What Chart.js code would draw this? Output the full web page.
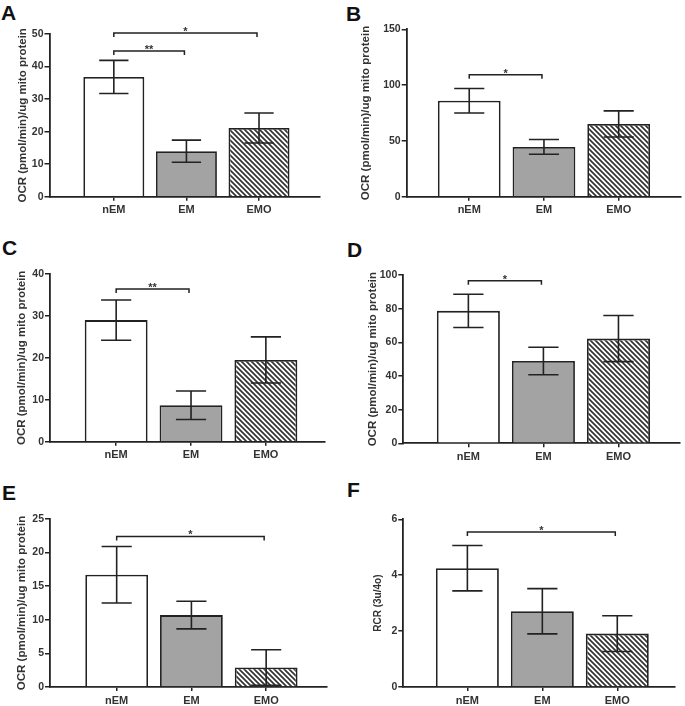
<!DOCTYPE html>
<html>
<head>
<meta charset="utf-8">
<script src="https://cdn.jsdelivr.net/npm/chart.js@4/dist/chart.umd.min.js"></script>
<style>
  html, body { margin: 0; padding: 0; background: #fff; }
  body { width: 685px; height: 706px; position: relative; overflow: hidden; }
  canvas { position: absolute; }
  .lbl { position: absolute; font-family: 'Liberation Sans', Arial, sans-serif; font-weight: bold; font-size: 21px; line-height: 1; color: #111; }
</style>
</head>
<body>
<div class="lbl" style="left:1px;top:2px">A</div>
<div class="lbl" style="left:346px;top:3px">B</div>
<div class="lbl" style="left:2px;top:237px">C</div>
<div class="lbl" style="left:347px;top:239px">D</div>
<div class="lbl" style="left:2px;top:482px">E</div>
<div class="lbl" style="left:347px;top:479px">F</div>

<canvas id="cA" width="340" height="235" style="left:0px;top:0px"></canvas>
<canvas id="cB" width="345" height="235" style="left:340px;top:0px"></canvas>
<canvas id="cC" width="340" height="235" style="left:0px;top:235px"></canvas>
<canvas id="cD" width="345" height="235" style="left:340px;top:235px"></canvas>
<canvas id="cE" width="340" height="236" style="left:0px;top:470px"></canvas>
<canvas id="cF" width="345" height="236" style="left:340px;top:470px"></canvas>

<script>
// ---------------- DATA ----------------
const categories = ['nEM', 'EM', 'EMO'];

const meanA = [36.8, 14.0, 21.1];
const semA  = [5.1, 3.4, 4.6];
const sigA  = [ { from: 0, to: 1, level: 44.8, label: '**' }, { from: 0, to: 2, level: 50.3, label: '*' } ];

const meanB = [86.0, 44.6, 65.2];
const semB  = [11.0, 6.6, 11.7];
const sigB  = [ { from: 0, to: 1, level: 109.2, label: '*' } ];

const meanC = [29.0, 8.7, 19.5];
const semC  = [4.8, 3.4, 5.5];
const sigC  = [ { from: 0, to: 1, level: 36.4, label: '**' } ];

const meanD = [78.7, 48.9, 62.2];
const semD  = [9.9, 8.2, 13.7];
const sigD  = [ { from: 0, to: 1, level: 96.6, label: '*' } ];

const meanE = [16.7, 10.7, 2.9];
const semE  = [4.2, 2.05, 2.65];
const sigE  = [ { from: 0, to: 2, level: 22.4, label: '*' } ];

const meanF = [4.25, 2.71, 1.91];
const semF  = [0.81, 0.81, 0.64];
const sigF  = [ { from: 0, to: 2, level: 5.55, label: '*' } ];

const yMaxA = 50,  yStepA = 10;
const yMaxB = 150, yStepB = 50;
const yMaxC = 40,  yStepC = 10;
const yMaxD = 100, yStepD = 20;
const yMaxE = 25,  yStepE = 5;
const yMaxF = 6,   yStepF = 2;

const ocrTitle = 'OCR (pmol/min)/ug mito protein';
const rcrTitle = 'RCR (3u/4o)';

// ---------------- STYLE ----------------
const FONT = "'Liberation Sans', Arial, sans-serif";
const INK = '#222';
const TXT = '#333';
Chart.defaults.font.family = FONT;
Chart.defaults.font.weight = 'bold';
Chart.defaults.color = TXT;

function hatchPattern() {
  const s = 5;
  const c = document.createElement('canvas');
  c.width = s; c.height = s;
  const g = c.getContext('2d');
  g.fillStyle = '#fff';
  g.fillRect(0, 0, s, s);
  g.strokeStyle = '#333';
  g.lineWidth = 1.7;
  g.beginPath();
  for (const k of [-s, 0, s]) {
    g.moveTo(k - 1, -1);
    g.lineTo(k + s + 1, s + 1);
  }
  g.stroke();
  return g.createPattern(c, 'repeat');
}

const errorBarPlugin = {
  id: 'errorBars',
  afterDatasetsDraw(chart) {
    const { ctx } = chart;
    const y = chart.scales.y;
    const meta = chart.getDatasetMeta(0);
    const mean = chart.data.datasets[0].means;
    const sem = chart.data.datasets[0].sems;
    ctx.save();
    ctx.strokeStyle = INK;
    ctx.lineWidth = 1.6;
    meta.data.forEach((el, i) => {
      const x = el.x;
      const half = el.width * 0.24;
      const yt = y.getPixelForValue(mean[i] + sem[i]);
      const yb = y.getPixelForValue(mean[i] - sem[i]);
      ctx.beginPath();
      ctx.moveTo(x, yt); ctx.lineTo(x, yb);
      ctx.moveTo(x - half, yt); ctx.lineTo(x + half, yt);
      ctx.moveTo(x - half, yb); ctx.lineTo(x + half, yb);
      ctx.stroke();
    });
    ctx.restore();
  }
};

const bracketPlugin = {
  id: 'brackets',
  afterDraw(chart) {
    const { ctx } = chart;
    const xs = chart.scales.x, ys = chart.scales.y;
    const sig = chart.options.plugins.brackets.items || [];
    ctx.save();
    ctx.strokeStyle = INK;
    ctx.lineWidth = 1.5;
    ctx.fillStyle = TXT;
    ctx.font = 'bold 11px ' + FONT;
    ctx.textAlign = 'center';
    ctx.textBaseline = 'alphabetic';
    sig.forEach(b => {
      const x1 = xs.getPixelForValue(b.from + 1);
      const x2 = xs.getPixelForValue(b.to + 1) - 2;
      const yy = ys.getPixelForValue(b.level);
      ctx.beginPath();
      ctx.moveTo(x1, yy + 4); ctx.lineTo(x1, yy); ctx.lineTo(x2, yy); ctx.lineTo(x2, yy + 4);
      ctx.stroke();
      ctx.fillText(b.label, (x1 + x2) / 2, yy + 2);
    });
    ctx.restore();
  }
};

function makePanel(id, means, sems, sig, yMax, yStep, title, titleSize, geom) {
  const hatch = hatchPattern();
  new Chart(document.getElementById(id), {
    type: 'bar',
    data: {
      datasets: [{
        data: categories.map((c, i) => ({ x: i + 1, y: means[i] })),
        means: means,
        sems: sems,
        backgroundColor: ['#ffffff', '#a3a3a3', hatch],
        borderColor: INK,
        borderWidth: 1.8,
        barPercentage: 0.84,
        categoryPercentage: 1
      }]
    },
    options: {
      responsive: false,
      animation: false,
      devicePixelRatio: 1,
      layout: { padding: { left: geom.pl, top: geom.pt, right: geom.pr, bottom: geom.pb } },
      plugins: {
        legend: { display: false },
        tooltip: { enabled: false },
        brackets: { items: sig }
      },
      scales: {
        x: {
          type: 'linear',
          min: geom.xmin,
          max: geom.xmax,
          offset: false,
          z: 1,
          afterBuildTicks(s) { s.ticks = categories.map((c, i) => ({ value: i + 1 })); },
          afterFit(s) { s.height = 19; },
          ticks: {
            autoSkip: false, maxRotation: 0, padding: 3,
            font: { size: 11, weight: 'bold' }, color: TXT,
            callback: (v) => categories[v - 1]
          },
          grid: { display: true, drawOnChartArea: false, drawTicks: true, tickLength: 4, color: INK, lineWidth: 1.5, offset: false },
          border: { display: true, color: INK, width: 1.8 }
        },
        y: {
          min: 0,
          max: yMax,
          z: 1,
          afterFit(s) { s.width = geom.yw; },
          ticks: { stepSize: yStep, padding: 1, font: { size: 10.5, weight: 'bold' }, color: TXT },
          grid: { display: true, drawOnChartArea: false, drawTicks: true, tickLength: 5, color: INK, lineWidth: 1.5 },
          border: { display: true, color: INK, width: 1.8 },
          title: { display: true, text: title, padding: 0, font: { size: titleSize, weight: 'bold', lineHeight: 1.2 }, color: TXT }
        }
      }
    },
    plugins: [errorBarPlugin, bracketPlugin]
  });
}

makePanel('cA', meanA, semA, sigA, yMaxA, yStepA, ocrTitle, 11.5,
  { pl: 16.4, pt: 34, pr: 20, pb: 19.3, yw: 33.1, xmin: 0.114, xmax: 3.84 });
makePanel('cB', meanB, semB, sigB, yMaxB, yStepB, ocrTitle, 11.5,
  { pl: 18.8, pt: 29.3, pr: 4.3, pb: 19.3, yw: 47.9, xmin: 0.163, xmax: 3.83 });
makePanel('cC', meanC, semC, sigC, yMaxC, yStepC, ocrTitle, 11.5,
  { pl: 15.4, pt: 39, pr: 15, pb: 9.3, yw: 34.6, xmin: 0.116, xmax: 3.79 });
makePanel('cD', meanD, semD, sigD, yMaxD, yStepD, ocrTitle, 11.5,
  { pl: 26.4, pt: 40, pr: 5, pb: 7.7, yw: 36.9, xmin: 0.133, xmax: 3.82 });
makePanel('cE', meanE, semE, sigE, yMaxE, yStepE, ocrTitle, 11.5,
  { pl: 14.8, pt: 49, pr: 13.3, pb: 0, yw: 35.2, xmin: 0.108, xmax: 3.81 });
makePanel('cF', meanF, semF, sigF, yMaxF, yStepF, rcrTitle, 10,
  { pl: 32.3, pt: 49.3, pr: 10, pb: 0, yw: 31.0, xmin: 0.145, xmax: 3.77 });
</script>
</body>
</html>
